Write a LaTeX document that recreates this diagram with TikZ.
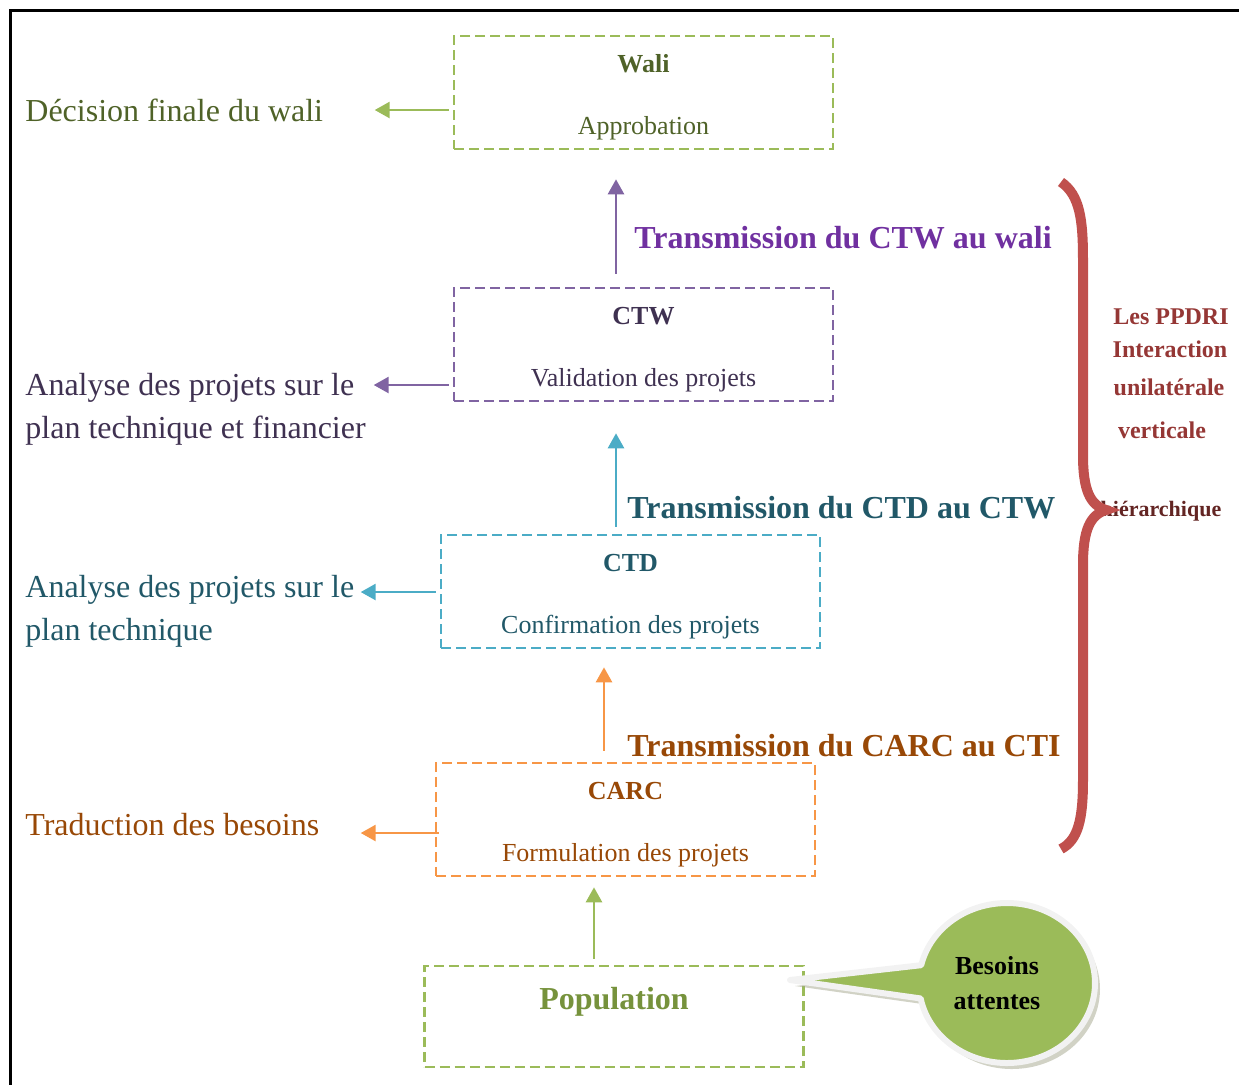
\documentclass[tikz,border=0pt]{standalone}
\usepackage{fontspec}
\setmainfont{Liberation Serif}
\usetikzlibrary{arrows.meta,calc,shapes.callouts,shadows}
\definecolor{waliline}{HTML}{9BBB59}
\definecolor{walitext}{HTML}{4F6228}
\definecolor{poptext}{HTML}{76923C}
\definecolor{ctwline}{HTML}{8064A2}
\definecolor{ctwtext}{HTML}{3F3151}
\definecolor{ctwlabel}{HTML}{7030A0}
\definecolor{ctdline}{HTML}{4BACC6}
\definecolor{ctdtext}{HTML}{215868}
\definecolor{carcline}{HTML}{F79646}
\definecolor{carctext}{HTML}{984806}
\definecolor{bracered}{HTML}{C0504D}
\definecolor{bracetext}{HTML}{953735}
\definecolor{bracedark}{HTML}{632523}
\definecolor{shadowgray}{HTML}{A3A68C}
\definecolor{rimwhite}{HTML}{F2F2F2}
\newcommand{\boxtop}{\rule{0pt}{14pt}}

\begin{document}
\begin{tikzpicture}[x=0.5pt,y=-0.5pt,
    levelbox/.style={draw,dash pattern=on 5pt off 2.5pt,line width=1.3pt,minimum width=189.5pt,minimum height=56.5pt,inner sep=0pt,align=center,font=\fontsize{13}{31}\selectfont},
    uparrow/.style={line width=1.3pt,-{Triangle[length=7.5pt,width=8pt]}},
    sidetext/.style={anchor=west,inner sep=0pt,align=left,font=\fontsize{16}{21.5}\selectfont},
    translabel/.style={anchor=west,inner sep=0pt,font=\fontsize{16}{19}\selectfont\bfseries},
    bracelabel/.style={inner sep=0pt,font=\fontsize{12}{14}\selectfont\bfseries,text=bracetext}]
    \useasboundingbox (0,0) rectangle (1239,1084);
    % cadre
    \draw[line width=1.5pt] (10,1090) -- (10,10) -- (1245,10);

    % niveaux
    \node[levelbox,draw=waliline,text=walitext] (wali) at (643.5,92.5) {\boxtop\textbf{Wali}\\Approbation};
    \node[levelbox,draw=ctwline,text=ctwtext] (ctw) at (643.5,344.5) {\boxtop\textbf{CTW}\\Validation des projets};
    \node[levelbox,draw=ctdline,text=ctdtext] (ctd) at (630.5,591.5) {\boxtop\textbf{CTD}\\Confirmation des projets};
    \node[levelbox,draw=carcline,text=carctext] (carc) at (625.5,819.5) {\boxtop\textbf{CARC}\\Formulation des projets};
    \node[levelbox,draw=waliline,text=poptext,minimum height=50.5pt,font=\fontsize{16}{19}\selectfont\bfseries] (pop) at (614,1016.5) {\rule[-18pt]{0pt}{18pt}Population};

    % transmissions
    \draw[uparrow,ctwline] ($(ctw.north)+(-27.5,-13)$) -- ($(wali.south)+(-27.5,29)$);
    \draw[uparrow,ctdline] ($(ctd.north)+(-14.5,-7)$) -- ($(ctw.south)+(-27.5,31)$);
    \draw[uparrow,carcline] ($(carc.north)+(-21.5,-11)$) -- ($(ctd.south)+(-26.5,18)$);
    \draw[uparrow,waliline] ($(pop.north)+(-20,-6)$) -- ($(carc.south)+(-31.5,10)$);
    \node[translabel,text=ctwlabel] (tctw) at (634,238) {Transmission du CTW au wali};
    \node[translabel,text=ctdtext] (tctd) at (627,508) {Transmission du CTD au CTW};
    \node[translabel,text=carctext] (tcarc) at (627,746) {Transmission du CARC au CTI};

    % roles
    \node[sidetext,text=walitext] (decision) at (25,110) {Décision finale du wali};
    \node[sidetext,text=ctwtext] (analysefin) at (25,409.5) {Analyse des projets sur le\\plan technique et financier};
    \node[sidetext,text=ctdtext] (analysetech) at (25,611.5) {Analyse des projets sur le\\plan technique};
    \node[sidetext,text=carctext] (traduction) at (25,825) {Traduction des besoins};
    \draw[uparrow,waliline] ($(wali.west)+(-4,17.5)$) -- ++(-74,0);
    \draw[uparrow,ctwline] ($(ctw.west)+(-4,40.5)$) -- ++(-75,0);
    \draw[uparrow,ctdline] ($(ctd.west)+(-4,0.5)$) -- ++(-75,0);
    \draw[uparrow,carcline] ($(carc.west)+(4,13.5)$) -- ++(-78,0);

    % accolade
    \node[bracelabel] (les) at (1171,317) {Les PPDRI};
    \node[bracelabel] (inter) at (1170,349) {Interaction};
    \node[bracelabel] (unil) at (1169,387) {unilatérale};
    \node[bracelabel] (vert) at (1162,430) {verticale};
    \node[bracelabel,text=bracedark,font=\fontsize{11}{13}\selectfont\bfseries] (hier) at (1161,511) {hiérarchique};
    \draw[bracered,line width=5pt] (1061,182) .. controls (1080,195) and (1083,220) .. (1083,260) -- (1083,455) .. controls (1083,490) and (1090,505) .. (1106,510) .. controls (1090,515) and (1083,530) .. (1083,565) -- (1083,780) .. controls (1083,820) and (1078,840) .. (1061,849);

    % bulle
    \coordinate (poptip) at (790,980);
    \node[ellipse callout,fill=waliline,draw=rimwhite,line width=3pt,line join=round,minimum width=88pt,minimum height=80pt,callout absolute pointer={(poptip)},callout pointer arc=24,drop shadow={shadow xshift=2.5pt,shadow yshift=-3pt,fill=shadowgray},align=center,font=\fontsize{13}{17.5}\selectfont\bfseries] (besoins) at (1007,983) {Besoins\hspace*{10pt}\\attentes\hspace*{10pt}};
\end{tikzpicture}
\end{document}
